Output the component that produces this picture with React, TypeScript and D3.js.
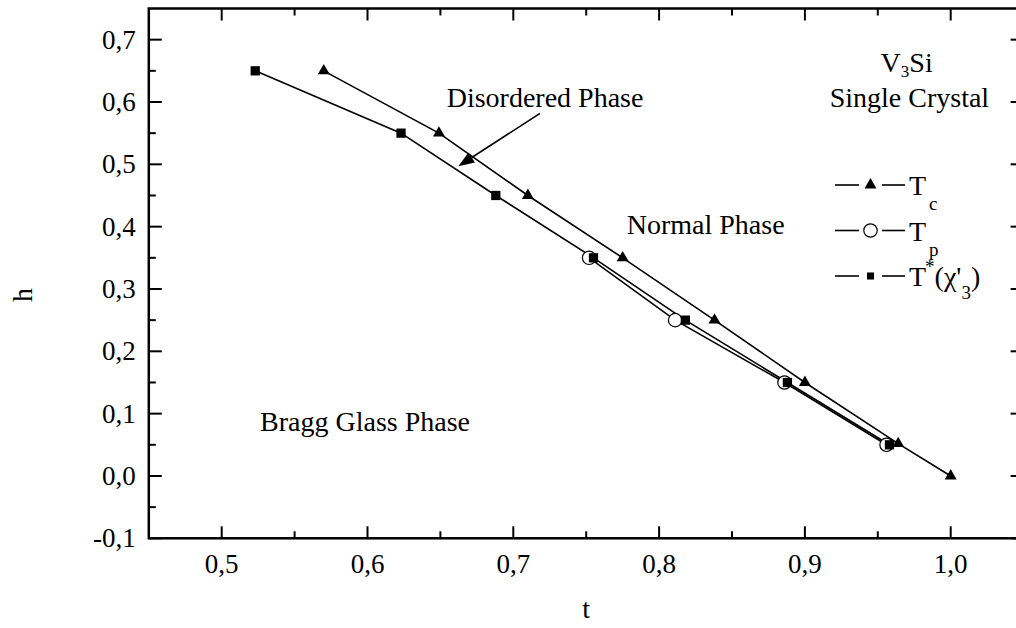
import React, { useEffect, useRef } from 'react';
import * as d3 from 'd3';

// T_c (triangles)
const tcT = [0.570, 0.649, 0.710, 0.775, 0.838, 0.900, 0.964, 1.000];
const tcH = [0.65, 0.55, 0.45, 0.35, 0.25, 0.15, 0.052, 0.0];
// T_p (open circles)
const tpT = [0.752, 0.811, 0.886, 0.956];
const tpH = [0.35, 0.25, 0.15, 0.05];
// T*(chi'3) (squares)
const tsT = [0.523, 0.623, 0.688, 0.755, 0.818, 0.888, 0.958];
const tsH = [0.65, 0.55, 0.45, 0.35, 0.25, 0.15, 0.05];

const xMajor = [0.5, 0.6, 0.7, 0.8, 0.9, 1.0];
const xMinor = [0.55, 0.65, 0.75, 0.85, 0.95];
const yMajor = [-0.1, 0.0, 0.1, 0.2, 0.3, 0.4, 0.5, 0.6, 0.7];
const yMinor = [-0.05, 0.05, 0.15, 0.25, 0.35, 0.45, 0.55, 0.65];

const FONT = '"Liberation Serif", "Times New Roman", serif';

const App = () => {
    const svgRef = useRef<SVGSVGElement | null>(null);

    useEffect(() => {
        if (!svgRef.current) return;
        d3.select(svgRef.current).selectAll('*').remove();

        const width = 1016;
        const height = 628;
        const x0 = 148.8, x1 = 1023.6, y0 = 538.3, y1 = 8.5;

        const svg = d3.select(svgRef.current)
            .attr('width', width)
            .attr('height', height)
            .style('font-family', FONT);

        const x = d3.scaleLinear().domain([0.45, 1.05]).range([x0, x1]);
        const y = d3.scaleLinear().domain([-0.1, 0.75]).range([y0, y1]);

        const locale = d3.formatLocale({ decimal: ',', thousands: '.', grouping: [3], currency: ['', ''], minus: '-' });
        const fmt = locale.format('.1f');

        // ticks (inside), all four sides
        const tickG = svg.append('g').attr('stroke', '#000').attr('stroke-width', 2);
        const addX = (vals: number[], len: number) => {
            vals.forEach(v => {
                tickG.append('line').attr('x1', x(v)).attr('x2', x(v)).attr('y1', y0).attr('y2', y0 - len);
                tickG.append('line').attr('x1', x(v)).attr('x2', x(v)).attr('y1', y1).attr('y2', y1 + len);
            });
        };
        const addY = (vals: number[], len: number) => {
            vals.forEach(v => {
                tickG.append('line').attr('x1', x0).attr('x2', x0 + len).attr('y1', y(v)).attr('y2', y(v));
                tickG.append('line').attr('x1', x1).attr('x2', x1 - len).attr('y1', y(v)).attr('y2', y(v));
            });
        };
        addX(xMajor, 12);
        addX(xMinor, 7);
        addY(yMajor, 13);
        addY(yMinor, 7);

        // frame
        svg.append('rect')
            .attr('x', x0).attr('y', y1)
            .attr('width', x1 - x0).attr('height', y0 - y1)
            .attr('fill', 'none').attr('stroke', '#000').attr('stroke-width', 2.5);

        // tick labels
        svg.append('g').selectAll('text').data(xMajor).enter().append('text')
            .attr('x', d => x(d)).attr('y', y0 + 35)
            .attr('text-anchor', 'middle').style('font-size', '27px')
            .text(d => fmt(d));
        svg.append('g').selectAll('text').data(yMajor).enter().append('text')
            .attr('x', x0 - 13).attr('y', d => y(d) + 9)
            .attr('text-anchor', 'end').style('font-size', '27px')
            .text(d => fmt(d));

        // axis titles
        svg.append('text').attr('x', (x0 + x1) / 2).attr('y', 618)
            .attr('text-anchor', 'middle').style('font-size', '28px').text('t');
        svg.append('text').attr('transform', 'translate(32, 295) rotate(-90)')
            .attr('text-anchor', 'middle').style('font-size', '28px').text('h');

        const line = d3.line<[number, number]>().x(d => x(d[0])).y(d => y(d[1]));
        const zip = (a: number[], b: number[]) => a.map((v, i) => [v, b[i]] as [number, number]);

        const tp = zip(tpT, tpH);
        const ts = zip(tsT, tsH);
        const tc = zip(tcT, tcH);

        [tp, ts, tc].forEach(s => {
            svg.append('path').datum(s).attr('d', line)
                .attr('fill', 'none').attr('stroke', '#000').attr('stroke-width', 1.6);
        });

        const tri = d3.symbol().type(d3.symbolTriangle).size(62);
        const sq = d3.symbol().type(d3.symbolSquare).size(86);

        svg.append('g').selectAll('circle').data(tp).enter().append('circle')
            .attr('cx', d => x(d[0])).attr('cy', d => y(d[1])).attr('r', 6.7)
            .attr('fill', '#fff').attr('stroke', '#000').attr('stroke-width', 1.2);
        svg.append('g').selectAll('path').data(ts).enter().append('path')
            .attr('d', sq).attr('transform', d => `translate(${x(d[0])},${y(d[1])})`)
            .attr('fill', '#000');
        svg.append('g').selectAll('path').data(tc).enter().append('path')
            .attr('d', tri).attr('transform', d => `translate(${x(d[0])},${y(d[1])})`)
            .attr('fill', '#000');

        // annotations
        const note = (t: number, h: number, txt: string, anchor = 'start') =>
            svg.append('text').attr('x', x(t)).attr('y', y(h))
                .attr('text-anchor', anchor).style('font-size', '28px').text(txt);
        note(0.6543, 0.592, 'Disordered Phase');
        note(0.7778, 0.389, 'Normal Phase');
        note(0.5263, 0.0722, 'Bragg Glass Phase');
        note(0.9717, 0.592, 'Single Crystal', 'middle');

        const v3 = svg.append('text').attr('x', x(0.9698)).attr('y', y(0.648))
            .attr('text-anchor', 'middle').style('font-size', '28px');
        v3.append('tspan').text('V');
        v3.append('tspan').attr('dy', 5).style('font-size', '17px').text('3');
        v3.append('tspan').attr('dy', -5).text('Si');

        // arrow pointing into the disordered band
        const ax0 = x(0.7183), ay0 = y(0.5817), ax1 = x(0.6623), ay1 = y(0.497);
        const ang = Math.atan2(ay1 - ay0, ax1 - ax0);
        const hl = 16, hw = 6;
        const bx = ax1 - hl * Math.cos(ang), by = ay1 - hl * Math.sin(ang);
        svg.append('line').attr('x1', ax0).attr('y1', ay0).attr('x2', bx).attr('y2', by)
            .attr('stroke', '#000').attr('stroke-width', 1.6);
        svg.append('path')
            .attr('d', `M${ax1},${ay1}L${bx + hw * Math.sin(ang)},${by - hw * Math.cos(ang)}L${bx - hw * Math.sin(ang)},${by + hw * Math.cos(ang)}Z`)
            .attr('fill', '#000');

        // legend
        const legend = svg.append('g').attr('transform', 'translate(835, 185)');
        const rows = [
            { sym: 'tri', main: 'T', sub: 'c' },
            { sym: 'circ', main: 'T', sub: 'p' },
            { sym: 'sq', main: 'T', sub: '' },
        ];
        rows.forEach((r, i) => {
            const g = legend.append('g').attr('transform', `translate(0, ${i * 45.5})`);
            g.append('line').attr('x1', 0).attr('x2', 24).attr('y1', 0).attr('y2', 0)
                .attr('stroke', '#000').attr('stroke-width', 1.6);
            g.append('line').attr('x1', 47).attr('x2', 70).attr('y1', 0).attr('y2', 0)
                .attr('stroke', '#000').attr('stroke-width', 1.6);
            if (r.sym === 'tri') g.append('path').attr('d', tri).attr('transform', 'translate(35.5,0)').attr('fill', '#000');
            if (r.sym === 'sq') g.append('path').attr('d', d3.symbol().type(d3.symbolSquare).size(50)).attr('transform', 'translate(35.5,0)').attr('fill', '#000');
            if (r.sym === 'circ') g.append('circle').attr('cx', 35.5).attr('cy', 0).attr('r', 6.7)
                .attr('fill', '#fff').attr('stroke', '#000').attr('stroke-width', 1.2);
            const t = g.append('text').attr('x', 74).attr('y', 10).style('font-size', '28px');
            t.append('tspan').text(r.main);
            if (r.sub) {
                t.append('tspan').attr('dx', 3).attr('dy', 15).style('font-size', '19px').text(r.sub);
            } else {
                t.append('tspan').attr('dx', -1).attr('dy', -13).style('font-size', '19px').text('*');
                t.append('tspan').attr('dy', 13).text('(\u03C7\'');
                t.append('tspan').attr('dy', 13).style('font-size', '19px').text('3');
                t.append('tspan').attr('dy', -13).text(')');
            }
        });
    }, []);

    return (
        <div>
            <svg ref={svgRef} style={{ position: 'absolute', left: 0, top: 0, display: 'block' }}></svg>
        </div>
    );
};

export default App;
